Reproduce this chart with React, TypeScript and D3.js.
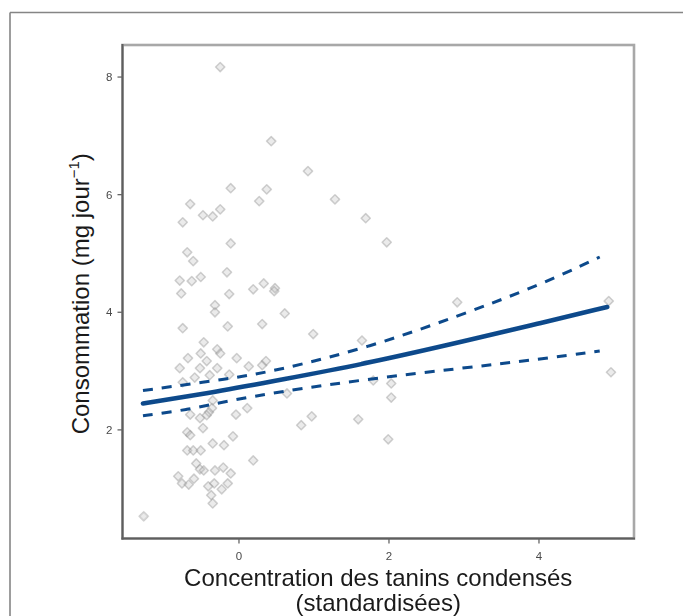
import React from "react";
import * as d3 from "d3";

// Observed points: tannin concentration (standardised) vs consumption (mg/day)
const tanin: number[] = [
  -0.25, 0.43, 0.92, -0.11, 0.37, 0.27, 1.28, -0.65, -0.48, -0.35,
  -0.25, -0.75, 1.69, 1.97, -0.11, -0.69, -0.61, -0.16, -0.79, -0.63,
  -0.51, -0.77, -0.13, 0.19, 0.33, 0.48, 0.47, -0.32, -0.32, 0.61,
  -0.75, -0.15, 0.31, 0.99, 1.64, 2.91, 4.93, 4.96, -0.47, -0.29,
  -0.25, -0.51, -0.68, -0.43, -0.03, -0.79, -0.52, -0.29, 0.13, 0.31,
  0.36, -0.75, -0.59, -0.39, -0.13, 1.79, 2.03, 2.03, 0.64, -0.35,
  -0.36, -0.4, -0.43, -0.65, -0.52, -0.04, 0.11, 0.83, 0.97, 1.59,
  1.99, -0.48, -0.69, -0.65, -0.08, -0.69, -0.61, -0.51, -0.35, -0.2,
  0.19, -0.57, -0.52, -0.47, -0.81, -0.76, -0.67, -0.6, -0.32, -0.21,
  -0.11, -0.41, -0.33, -0.15, -0.23, -0.37, -0.35, -1.27,
];
const consommation: number[] = [
  8.17, 6.91, 6.4, 6.11, 6.09, 5.89, 5.92, 5.84, 5.65, 5.63,
  5.75, 5.53, 5.6, 5.19, 5.17, 5.02, 4.87, 4.68, 4.54, 4.53,
  4.6, 4.32, 4.31, 4.39, 4.49, 4.41, 4.36, 4.12, 4.0, 3.98,
  3.73, 3.76, 3.8, 3.63, 3.52, 4.17, 4.19, 2.98, 3.49, 3.37,
  3.3, 3.3, 3.22, 3.17, 3.22, 3.05, 3.05, 3.05, 3.08, 3.1,
  3.17, 2.81, 2.89, 2.93, 2.94, 2.84, 2.79, 2.55, 2.62, 2.5,
  2.37, 2.3, 2.25, 2.26, 2.2, 2.26, 2.37, 2.08, 2.23, 2.18,
  1.84, 2.03, 1.96, 1.91, 1.89, 1.65, 1.65, 1.65, 1.77, 1.74,
  1.48, 1.43, 1.33, 1.31, 1.21, 1.09, 1.07, 1.17, 1.31, 1.36,
  1.26, 1.04, 1.09, 1.09, 0.99, 0.89, 0.75, 0.53,
];

// Fitted curve and confidence band
const fitX: number[] = [-1.28, -0.29, 0.55, 1.75, 3.08, 3.97, 4.91];
const fitY: number[] = [2.45, 2.65, 2.85, 3.14, 3.53, 3.8, 4.09];
const upperX: number[] = [-1.28, -0.12, 0.55, 1.75, 2.91, 3.99, 4.81];
const upperY: number[] = [2.67, 2.87, 3.02, 3.41, 3.93, 4.45, 4.94];
const lowerX: number[] = [-1.28, -0.69, -0.12, 0.55, 1.75, 2.91, 3.99, 4.81];
const lowerY: number[] = [2.24, 2.34, 2.5, 2.65, 2.87, 3.04, 3.2, 3.34];

const xTicks: number[] = [0, 2, 4];
const yTicks: number[] = [2, 4, 6, 8];

const W = 683;
const H = 616;
const left = 122.5;
const right = 634;
const top = 45;
const bottom = 538.5;

export default function App() {
  const x = d3.scaleLinear().domain([-1.553, 5.267]).range([left, right]);
  const y = d3.scaleLinear().domain([0.153, 8.545]).range([bottom, top]);

  const line = d3
    .line<[number, number]>()
    .x((d) => x(d[0]))
    .y((d) => y(d[1]))
    .curve(d3.curveBasis);

  const fit = line(fitX.map((v, i) => [v, fitY[i]] as [number, number])) || "";
  const up = line(upperX.map((v, i) => [v, upperY[i]] as [number, number])) || "";
  const lo = line(lowerX.map((v, i) => [v, lowerY[i]] as [number, number])) || "";

  const diamond = d3.symbol().type(d3.symbolSquare).size(42)() || "";
  const font = "'Liberation Sans', Arial, sans-serif";
  const blue = "#0b4a8b";

  return (
    <svg
      width={W}
      height={H}
      style={{ position: "absolute", left: 0, top: 0, background: "#fff" }}
      fontFamily={font}
    >
      <defs>
        <filter id="soft" x="-20%" y="-20%" width="140%" height="140%">
          <feGaussianBlur stdDeviation="0.55" />
        </filter>
      </defs>

      {/* outer frame */}
      <line x1={10} y1={12.5} x2={W} y2={12.5} stroke="#858585" strokeWidth={1.6} />
      <line x1={10} y1={12.5} x2={10} y2={H} stroke="#858585" strokeWidth={1.6} />

      {/* points */}
      <g filter="url(#soft)">
        {tanin.map((t, i) => (
          <path
            key={i}
            d={diamond}
            transform={`translate(${x(t)},${y(consommation[i])}) rotate(45)`}
            fill="rgba(190,190,190,0.3)"
            stroke="rgba(140,140,140,0.4)"
            strokeWidth={1.5}
            strokeLinejoin="round"
          />
        ))}
      </g>

      {/* fitted lines */}
      <g filter="url(#soft)">
        <path d={up} fill="none" stroke={blue} strokeWidth={3} strokeDasharray="10 9" />
        <path d={lo} fill="none" stroke={blue} strokeWidth={3} strokeDasharray="10 9" />
        <path d={fit} fill="none" stroke={blue} strokeWidth={4.6} strokeLinecap="round" />
      </g>

      {/* panel box */}
      <rect
        x={left}
        y={top}
        width={right - left}
        height={bottom - top}
        fill="none"
        stroke="#a8a8a8"
        strokeWidth={2.6}
      />
      <line x1={left} y1={top - 1} x2={left} y2={bottom + 1} stroke="#5e5e5e" strokeWidth={2} />
      <line x1={left - 1} y1={bottom} x2={right + 1} y2={bottom} stroke="#5e5e5e" strokeWidth={2} />

      {/* y ticks */}
      {yTicks.map((t) => (
        <g key={t}>
          <line x1={left - 5} x2={left} y1={y(t)} y2={y(t)} stroke="#666" strokeWidth={1.3} />
          <text
            x={left - 10}
            y={y(t)}
            dy="0.36em"
            textAnchor="end"
            fontSize={11.5}
            fill="#4a4a4a"
          >
            {t}
          </text>
        </g>
      ))}

      {/* x ticks */}
      {xTicks.map((t) => (
        <g key={t}>
          <line x1={x(t)} x2={x(t)} y1={bottom} y2={bottom + 5} stroke="#666" strokeWidth={1.3} />
          <text x={x(t)} y={560} textAnchor="middle" fontSize={11.5} fill="#4a4a4a">
            {t}
          </text>
        </g>
      ))}

      {/* axis titles */}
      <text x={(left + right) / 2} y={586} textAnchor="middle" fontSize={24} fill="#1a1a1a">
        Concentration des tanins condensés
      </text>
      <text x={(left + right) / 2} y={611} textAnchor="middle" fontSize={24} fill="#1a1a1a">
        (standardisées)
      </text>
      <text
        transform={`translate(89,${(top + bottom) / 2 + 2}) rotate(-90)`}
        textAnchor="middle"
        fontSize={24}
        fill="#1a1a1a"
      >
        Consommation (mg jour
        <tspan fontSize={15} dy={-10}>
          −1
        </tspan>
        <tspan dy={10}>)</tspan>
      </text>
    </svg>
  );
}
